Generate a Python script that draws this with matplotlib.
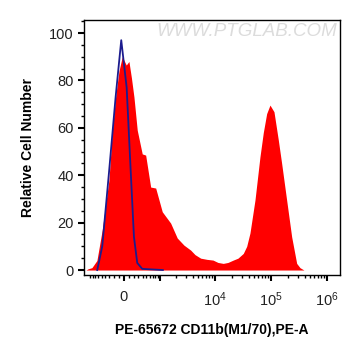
import matplotlib
matplotlib.use("Agg")
import matplotlib.pyplot as plt
import numpy as np

plt.rcParams['font.family'] = ['Liberation Sans', 'DejaVu Sans']
plt.rcParams['mathtext.fontset'] = 'custom'
plt.rcParams['mathtext.rm'] = 'Liberation Sans'
plt.rcParams['mathtext.it'] = 'Liberation Sans'

# stained sample (red filled histogram), fluorescence vs relative count
red_x = [-1083, -988, -824, -645, -483, -312, -236, -166, -98, -33, 45, 98, 149,
         201, 273, 392, 483, 634, 812, 1099, 1587, 2102, 2785, 3682, 4404, 5567,
         7220, 9253, 11350, 14120, 17150, 21330, 25850, 32200, 37050, 42400,
         52100, 64000, 73400, 84300, 96600, 113900, 135900, 156200, 191900,
         236000, 290000, 332000, 391000]
red_y = [0, 0.5, 1, 4, 17, 38, 59, 73, 84, 90, 86.5, 88, 81,
         73, 59, 49, 48.5, 35, 34.6, 24.6, 19.8, 13.5, 10.5, 8.4, 6.5, 5,
         4.5, 4.2, 3.2, 2.8, 3.2, 4.2, 5, 7, 10, 15.6,
         29.5, 47.8, 58, 66, 69.6, 66.8, 55, 45, 29.5,
         14, 2.8, 1, 0]

# isotype control (blue line)
blue_x = [-634, -483, -312, -166, -53, 53, 133, 201, 273, 392, 612, 1130]
blue_y = [0, 10, 41, 73, 97, 77, 42, 14, 3, 0.5, 0.3, 0]

W = 475.0


def fwd(x):
    return np.arcsinh(np.asarray(x) / W)


def inv(u):
    return W * np.sinh(np.asarray(u))


fig = plt.figure(figsize=(3.61, 3.56), dpi=100)
ax = fig.add_axes([0.2327, 0.2275, 0.709, 0.7163])
ax.set_xscale('function', functions=(fwd, inv))

ax.fill_between(red_x, red_y, 0, color='#ff0000', linewidth=0, zorder=2)
ax.plot(blue_x, blue_y, color='#1c1c8e', linewidth=1.3, zorder=3)

ax.set_xlim(-1183, 1.72e6)
ax.set_ylim(-2.1, 105.5)

major = [0, 1e3, 1e4, 1e5, 1e6]
ax.set_xticks(major)
ax.set_xticklabels(['0', '', '$10^4$', '$10^5$', '$10^6$'])
minor = [-k * 100 for k in range(1, 10)] + [k * 100 for k in range(1, 10)]
for dec in [1e3, 1e4, 1e5]:
    minor += [k * dec for k in range(2, 10)]
ax.set_xticks(minor, minor=True)

ax.set_yticks([0, 20, 40, 60, 80, 100])
ax.set_yticks(np.arange(0, 106, 5), minor=True)

ax.tick_params(axis='both', which='major', length=4, width=1.5,
               labelsize=10.5, colors='black', labelcolor='#222222')
ax.tick_params(axis='both', which='minor', length=2.5, width=1)
ax.tick_params(axis='x', pad=7)
for s in ax.spines.values():
    s.set_linewidth(1)

ax.set_ylabel('Relative Cell Number', fontsize=10, fontweight='bold', labelpad=10)
ax.set_xlabel('PE-65672 CD11b(M1/70),PE-A', fontsize=10, fontweight='bold',
              labelpad=10)

ax.text(0.99, 0.955, 'WWW.PTGLAB.COM', transform=ax.transAxes, ha='right',
        va='center', fontsize=13.5, color='#dcdcdc', fontstyle='italic', zorder=1)

fig.savefig('out.png', dpi=100)
